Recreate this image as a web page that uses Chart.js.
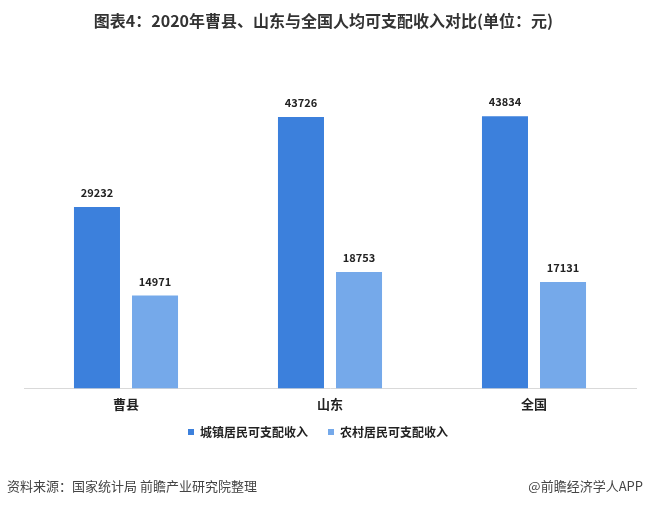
<!DOCTYPE html>
<html>
<head>
<meta charset="utf-8">
<script src="https://cdn.jsdelivr.net/npm/chart.js@4/dist/chart.umd.min.js"></script>
<style>
  body { margin: 0; background: #fff; }
  #wrap { position: relative; width: 647px; height: 507px; overflow: hidden; font-family: "Noto Sans CJK SC", "Noto Sans", sans-serif; }
  #title { position: absolute; top: 8px; left: 0; width: 647px; text-align: center; font-size: 16px; font-weight: bold; color: #333; }
  #src { position: absolute; top: 476px; left: 7px; font-size: 13px; color: #444; }
  #brand { position: absolute; top: 476px; right: 4px; font-size: 13px; color: #444; }
  canvas { position: absolute; top: 0; left: 0; }
</style>
</head>
<body>
<div id="wrap">
  <canvas id="incomeChart" width="647" height="507"></canvas>
  <div id="title">图表4：2020年曹县、山东与全国人均可支配收入对比(单位：元)</div>
  <div id="src">资料来源：国家统计局 前瞻产业研究院整理</div>
  <div id="brand">@前瞻经济学人APP</div>
</div>
<script>
// 数据
const regions = ['曹县', '山东', '全国'];
const urbanIncome = [29232, 43726, 43834];
const ruralIncome = [14971, 18753, 17131];
const seriesNames = ['城镇居民可支配收入', '农村居民可支配收入'];

const FONT = '"Noto Sans CJK SC", "Noto Sans", sans-serif';

// 柱子上方的数值标签
const valueLabels = {
    id: 'valueLabels',
    afterDatasetsDraw(chart) {
        const ctx = chart.ctx;
        ctx.save();
        ctx.font = 'bold 11px ' + FONT;
        ctx.fillStyle = '#222';
        ctx.textAlign = 'center';
        ctx.textBaseline = 'middle';
        chart.data.datasets.forEach((ds, i) => {
            chart.getDatasetMeta(i).data.forEach((bar, j) => {
                ctx.fillText(ds.data[j], bar.x, bar.y - 14);
            });
        });
        ctx.restore();
    }
};

// 图例位置微调（左移、上移）
const legendShift = {
    id: 'legendShift',
    afterLayout(chart) {
        const lg = chart.legend;
        lg.left -= 12; lg.right -= 12;
        lg.top -= 6; lg.bottom -= 6;
    }
};

const ctx = document.getElementById('incomeChart').getContext('2d');
new Chart(ctx, {
    type: 'bar',
    data: {
        labels: regions,
        datasets: [
            { label: seriesNames[0], data: urbanIncome, backgroundColor: '#3c80dc' },
            { label: seriesNames[1], data: ruralIncome, backgroundColor: '#75a9ea' }
        ]
    },
    options: {
        responsive: false,
        animation: false,
        categoryPercentage: 0.569,
        barPercentage: 0.793,
        layout: { padding: { top: 78, left: 24, right: 11, bottom: 53 } },
        scales: {
            y: { display: false, min: 0, max: 50000 },
            x: {
                grid: { display: false },
                border: { display: true, color: '#d9d9d9' },
                ticks: { color: '#222', padding: 0, font: { family: FONT, size: 13, weight: 'bold' } }
            }
        },
        plugins: {
            legend: {
                position: 'bottom',
                labels: {
                    boxWidth: 6, boxHeight: 6, padding: 20, color: '#222',
                    font: { family: FONT, size: 12, weight: 'bold' }
                }
            },
            tooltip: { enabled: false }
        }
    },
    plugins: [valueLabels, legendShift]
});
</script>
</body>
</html>
